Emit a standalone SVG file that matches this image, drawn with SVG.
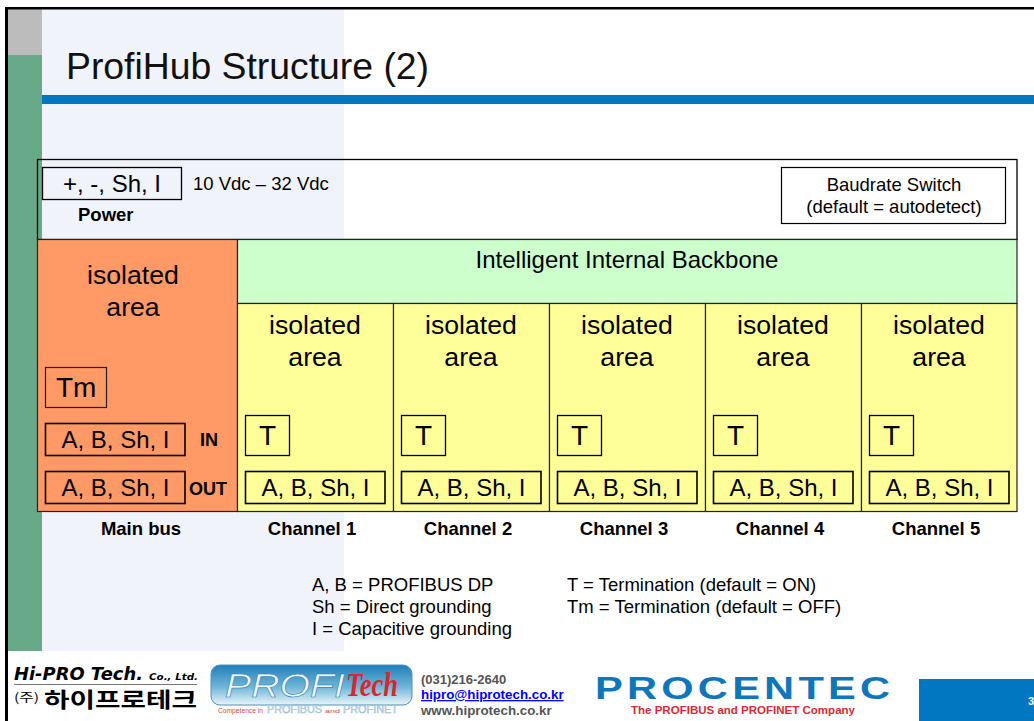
<svg xmlns="http://www.w3.org/2000/svg" width="1034" height="721" viewBox="0 0 1034 721">
<style>
text{font-family:"Liberation Sans",Arial,sans-serif;fill:#000}
.c{text-anchor:middle}
.iso{font-size:26.67px}
.lab{font-size:24px}
.big{font-size:28px}
.s{font-size:18.5px}
.b{font-size:18.5px;font-weight:bold}
.box{fill:none;stroke:#000;stroke-width:1.3}
.thick{fill:none;stroke:#000;stroke-width:1.6}
.area{stroke:#222;stroke-width:1.2}
.y{fill:#ffff99}
</style>
<defs>
<linearGradient id="pt" x1="0" y1="0" x2="0" y2="1">
<stop offset="0" stop-color="#1f7fb8"/><stop offset="0.55" stop-color="#6fb5d8"/><stop offset="1" stop-color="#eaf5fa"/>
</linearGradient>
</defs>
<rect width="1034" height="721" fill="#fff"/>
<g id="background">
<rect x="42" y="9" width="302" height="642" fill="#f0f3f9"/>
<rect x="8" y="9" width="34" height="46" fill="#bcbcbc"/>
<rect x="8" y="55" width="34" height="596" fill="#67a989"/>
<rect x="5" y="7" width="1029" height="2.500" fill="#000"/>
<rect x="5" y="7" width="3" height="714" fill="#000"/>
<rect x="42" y="95" width="992" height="9" fill="#0077c0"/>
<rect x="919" y="679" width="115" height="42" fill="#0077c0"/>
<text x="1028" y="705" style="font-size:11px;font-weight:bold;fill:#fff">3</text>
</g>
<text id="title" x="66" y="79" style="font-size:37.330px;fill:#111">ProfiHub Structure (2)</text>
<g id="power-section">
<rect class="box" x="37.500" y="159.500" width="979.500" height="80"/>
<rect class="box" x="42.500" y="167.500" width="139" height="32"/>
<text class="c lab" x="112" y="192">+, -, Sh, I</text>
<text class="b" x="78" y="221">Power</text>
<text class="s" x="193" y="190">10 Vdc – 32 Vdc</text>
</g>
<g id="baudrate">
<rect x="781.500" y="167.500" width="224" height="56" fill="#fff" stroke="#000" stroke-width="1.2"/>
<text class="c s" x="894" y="191">Baudrate Switch</text>
<text class="c s" x="894" y="213">(default = autodetect)</text>
</g>
<g id="main-bus">
<rect class="area" x="37.500" y="239.500" width="200" height="272" fill="#ff9966"/>
<text class="c iso" x="133" y="284">isolated</text>
<text class="c iso" x="133" y="316">area</text>
<rect x="45.500" y="367.500" width="61" height="40" fill="none" stroke="#222" stroke-width="1.2"/>
<text class="big" x="56" y="397">Tm</text>
<rect class="thick" x="45.500" y="423.500" width="139.500" height="32"/>
<text class="c lab" x="115.500" y="448">A, B, Sh, I</text>
<text style="font-size:18px;font-weight:bold" x="200" y="446">IN</text>
<rect class="thick" x="45.500" y="471.500" width="139.500" height="32"/>
<text class="c lab" x="115.500" y="496">A, B, Sh, I</text>
<text style="font-size:18px;font-weight:bold" x="189" y="495">OUT</text>
<text class="b c" x="141" y="535">Main bus</text>
</g>
<g id="backbone">
<rect class="area" x="237.500" y="239.500" width="779.500" height="64" fill="#ccffcc"/>
<text class="c lab" x="627" y="268">Intelligent Internal Backbone</text>
</g>
<g id="channel-1">
<rect class="area y" x="237.500" y="303.500" width="156" height="208"/>
<text class="c iso" x="315" y="334">isolated</text>
<text class="c iso" x="315" y="366">area</text>
<rect class="box" x="245.500" y="415.500" width="44" height="40"/>
<text class="big" x="259" y="445">T</text>
<rect class="thick" x="245.500" y="471.500" width="139.500" height="32"/>
<text class="c lab" x="315.500" y="496">A, B, Sh, I</text>
<text class="b c" x="312" y="535">Channel 1</text>
</g>
<g id="channel-2">
<rect class="area y" x="393.500" y="303.500" width="156" height="208"/>
<text class="c iso" x="471" y="334">isolated</text>
<text class="c iso" x="471" y="366">area</text>
<rect class="box" x="401.500" y="415.500" width="44" height="40"/>
<text class="big" x="415" y="445">T</text>
<rect class="thick" x="401.500" y="471.500" width="139.500" height="32"/>
<text class="c lab" x="471.500" y="496">A, B, Sh, I</text>
<text class="b c" x="468" y="535">Channel 2</text>
</g>
<g id="channel-3">
<rect class="area y" x="549.500" y="303.500" width="156" height="208"/>
<text class="c iso" x="627" y="334">isolated</text>
<text class="c iso" x="627" y="366">area</text>
<rect class="box" x="557.500" y="415.500" width="44" height="40"/>
<text class="big" x="571" y="445">T</text>
<rect class="thick" x="557.500" y="471.500" width="139.500" height="32"/>
<text class="c lab" x="627.500" y="496">A, B, Sh, I</text>
<text class="b c" x="624" y="535">Channel 3</text>
</g>
<g id="channel-4">
<rect class="area y" x="705.500" y="303.500" width="156" height="208"/>
<text class="c iso" x="783" y="334">isolated</text>
<text class="c iso" x="783" y="366">area</text>
<rect class="box" x="713.500" y="415.500" width="44" height="40"/>
<text class="big" x="727" y="445">T</text>
<rect class="thick" x="713.500" y="471.500" width="139.500" height="32"/>
<text class="c lab" x="783.500" y="496">A, B, Sh, I</text>
<text class="b c" x="780" y="535">Channel 4</text>
</g>
<g id="channel-5">
<rect class="area y" x="861.500" y="303.500" width="155.500" height="208"/>
<text class="c iso" x="939" y="334">isolated</text>
<text class="c iso" x="939" y="366">area</text>
<rect class="box" x="869.500" y="415.500" width="44" height="40"/>
<text class="big" x="883" y="445">T</text>
<rect class="thick" x="869.500" y="471.500" width="139.500" height="32"/>
<text class="c lab" x="939.500" y="496">A, B, Sh, I</text>
<text class="b c" x="936" y="535">Channel 5</text>
</g>
<g id="legend">
<text class="s" x="312" y="591">A, B = PROFIBUS DP</text>
<text class="s" x="312" y="613">Sh = Direct grounding</text>
<text class="s" x="312" y="635">I = Capacitive grounding</text>
<text class="s" x="567" y="591">T = Termination (default = ON)</text>
<text class="s" x="567" y="613">Tm = Termination (default = OFF)</text>
</g>
<g id="logo-hipro">
<text x="14" y="680" style="font-size:18px;font-weight:bold;font-style:italic;font-family:'DejaVu Sans',sans-serif" textLength="129" lengthAdjust="spacingAndGlyphs">Hi-PRO Tech.</text>
<text x="149" y="680" style="font-size:9px;font-weight:bold;font-style:italic;font-family:'DejaVu Sans',sans-serif" textLength="49" lengthAdjust="spacingAndGlyphs">Co., Ltd.</text>
<rect x="14" y="684" width="183" height="1" fill="#777"/>
<text x="14" y="702" style="font-size:12px;font-family:'Noto Sans CJK KR',sans-serif" textLength="25" lengthAdjust="spacingAndGlyphs">(주)</text>
<text x="44" y="707" style="font-size:21px;font-weight:bold;font-family:'Noto Sans CJK KR',sans-serif" textLength="153" lengthAdjust="spacingAndGlyphs">하이프로테크</text>
</g>
<g id="logo-profitech">
<rect x="211" y="665" width="201" height="40" rx="9" fill="url(#pt)" stroke="#4a93bd" stroke-width="1"/>
<text x="225" y="697" style="font-size:34px;font-style:italic;fill:#eef6fb;stroke:#2b7fb0;stroke-width:0.6" textLength="120" lengthAdjust="spacingAndGlyphs">PROFI</text>
<text x="346" y="696" style="font-size:34px;font-weight:bold;font-style:italic;fill:#d8262c;font-family:'Liberation Serif',serif" textLength="52" lengthAdjust="spacingAndGlyphs">Tech</text>
<text x="218" y="713" style="font-size:7px;fill:#e0474c" textLength="45" lengthAdjust="spacingAndGlyphs">Competence in</text>
<text x="267" y="713" style="font-size:10px;fill:#cfe3ef;stroke:#8fb6cf;stroke-width:0.4" textLength="55" lengthAdjust="spacingAndGlyphs">PROFIBUS</text>
<text x="325" y="713" style="font-size:6px;fill:#e0474c" textLength="15" lengthAdjust="spacingAndGlyphs">and</text>
<text x="343" y="713" style="font-size:10px;fill:#cfe3ef;stroke:#8fb6cf;stroke-width:0.4" textLength="55" lengthAdjust="spacingAndGlyphs">PROFINET</text>
</g>
<g id="contact">
<text x="421" y="684" style="font-size:13px;font-weight:bold;fill:#555">(031)216-2640</text>
<text x="421" y="699" style="font-size:13.330px;font-weight:bold;fill:#00f;text-decoration:underline">hipro@hiprotech.co.kr</text>
<text x="421" y="715" style="font-size:13.330px;font-weight:bold;fill:#555">www.hiprotech.co.kr</text>
</g>
<g id="logo-procentec">
<text transform="translate(595 699) scale(1.3 1)" x="0" y="0" style="font-size:32px;font-weight:bold;fill:#0f76bc" textLength="227" lengthAdjust="spacing">PROCENTEC</text>
<text x="631" y="714" style="font-size:11px;font-weight:bold;fill:#d92b35" textLength="224" lengthAdjust="spacingAndGlyphs">The PROFIBUS and PROFINET Company</text>
</g>
</svg>
